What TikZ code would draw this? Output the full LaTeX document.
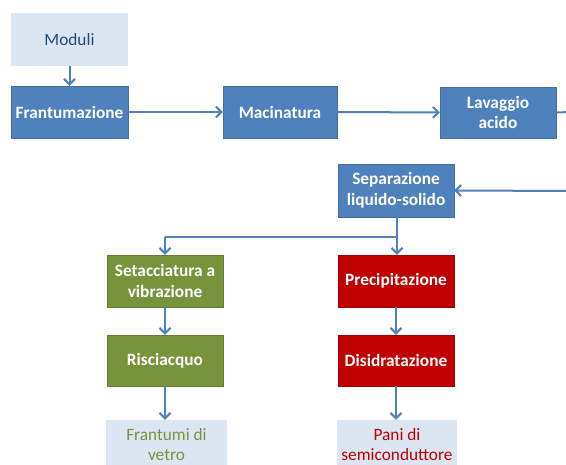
\documentclass[tikz,border=0pt]{standalone}
\usepackage{fontspec}
\setmainfont{Carlito}
\usetikzlibrary{arrows.meta}
\definecolor{boxblue}{HTML}{4F81BD}
\definecolor{lightbox}{HTML}{DCE6F2}
\definecolor{darktext}{HTML}{1F497D}
\definecolor{boxgreen}{HTML}{77933C}
\definecolor{boxred}{HTML}{C00000}
\tikzset{
  base/.style={rectangle, inner sep=0pt, align=center, font=\fontsize{17.3}{20.5}\selectfont\bfseries},
  bluebox/.style={base, fill=boxblue, draw=boxblue!85!black, line width=0.4pt, text=white},
  greenbox/.style={base, fill=boxgreen, draw=boxgreen!85!black, line width=0.4pt, text=white},
  redbox/.style={base, fill=boxred, draw=boxred!85!black, line width=0.4pt, text=white},
  lightbox/.style={base, fill=lightbox},
  conn/.style={draw=boxblue, line width=2pt, -{Straight Barb[length=5.5pt,width=11pt,line width=2pt]}},
  plain/.style={draw=boxblue, line width=2pt}
}
\begin{document}
\begin{tikzpicture}[x=1pt,y=-1pt]
\clip (0,0) rectangle (566,465);
\fill[white] (0,0) rectangle (566,465);
\node[lightbox, text=darktext, font=\fontsize{17.3}{20.5}\selectfont, minimum width=117pt, minimum height=53pt] (mod) at (69.5,39.5) {Moduli};
\node[bluebox, minimum width=117pt, minimum height=52pt] (fra) at (69.5,112) {Frantumazione};
\node[bluebox, minimum width=114pt, minimum height=52pt] (mac) at (280,112) {Macinatura};
\node[bluebox, minimum width=116pt, minimum height=51pt] (lav) at (498,112.5) {Lavaggio\\acido};
\node[bluebox, minimum width=116pt, minimum height=53pt] (sep) at (396,190.5) {Separazione\\liquido-solido};
\node[greenbox, minimum width=116pt, minimum height=52pt] (set) at (165,281) {Setacciatura a\\vibrazione};
\node[redbox, minimum width=116pt, minimum height=52pt] (pre) at (396,281) {Precipitazione};
\node[greenbox, minimum width=116pt, minimum height=51pt] (ris) at (165,360.5) {Risciacquo};
\node[redbox, minimum width=116pt, minimum height=51pt] (dis) at (396,360.5) {Disidratazione};
\node[lightbox, text=boxgreen, font=\fontsize{17.3}{20.5}\selectfont, minimum width=121pt, minimum height=49pt] (fv) at (166.5,444.5) {Frantumi di\\vetro};
\node[lightbox, text=boxred, font=\fontsize{17.3}{20.5}\selectfont, minimum width=120pt, minimum height=49pt] (ps) at (397,444.5) {Pani di\\semiconduttore};
\coordinate (outR) at (570,112);
\coordinate (inR) at (570,191);
\coordinate (split) at (397,237);
\draw[conn] (mod) -- (fra);
\draw[conn] (fra) -- (mac);
\draw[conn] (mac) -- (lav);
\draw[plain] (lav.east) -- (outR);
\draw[conn] (inR) -- (sep.east);
\draw[plain] (sep.south -| split) -- (split) -- (split -| set.north);
\draw[conn] (split -| set.north) -- (set.north);
\draw[conn] (split) -- (pre.north -| split);
\draw[conn] (set) -- (ris);
\draw[conn] (pre) -- (dis);
\draw[conn] (ris.south) -- (ris.south |- fv.north);
\draw[conn] (dis.south) -- (dis.south |- ps.north);
\end{tikzpicture}
\end{document}
